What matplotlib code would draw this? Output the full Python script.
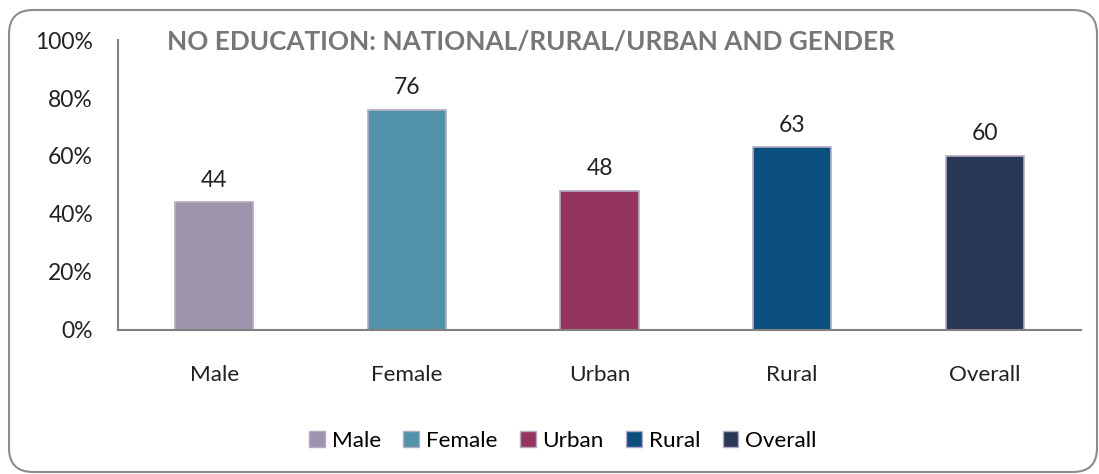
import matplotlib
matplotlib.use("Agg")
import matplotlib.pyplot as plt
from matplotlib.patches import FancyBboxPatch, Patch
from matplotlib.transforms import IdentityTransform

categories = ["Male", "Female", "Urban", "Rural", "Overall"]
values = [44, 76, 48, 63, 60]
colors = ["#9E94AB", "#5293AB", "#95355E", "#0A4F7E", "#2A3858"]
yticks = [0, 20, 40, 60, 80, 100]
ytick_labels = ["0%", "20%", "40%", "60%", "80%", "100%"]
title = "NO EDUCATION: NATIONAL/RURAL/URBAN AND GENDER"

plt.rcParams['font.family'] = ['Lato', 'DejaVu Sans']

fig = plt.figure(figsize=(10.99, 4.74), dpi=100)
W, H = 1099, 474

# rounded border (display pixels, origin bottom-left)
border = FancyBboxPatch((9, H - 472), 1097 - 9, 472 - 10,
                        boxstyle="round,pad=0,rounding_size=24",
                        transform=IdentityTransform(), fill=False,
                        edgecolor="#8C8C8C", linewidth=1.5)
fig.patches.append(border)

ax = fig.add_axes([118 / W, (H - 330) / H, (1081 - 118) / W, (330 - 40) / H])
x = range(len(categories))
bars = ax.bar(x, values, width=0.405, color=colors, edgecolor="#B4ACC4", linewidth=1.2)
for xi, v in zip(x, values):
    ax.text(xi, v + 4, str(v), ha="center", va="bottom", fontsize=16.5, color="#222222")

ax.set_xlim(-0.5, len(categories) - 0.5)
ax.set_ylim(0, 100)
ax.set_yticks(yticks)
ax.set_yticklabels(ytick_labels, fontsize=16.5, color="#222222")
ax.set_xticks(list(x))
ax.set_xticklabels(categories, fontsize=16.2, color="#222222")
ax.tick_params(axis="both", length=0)
ax.tick_params(axis="y", pad=18)
ax.tick_params(axis="x", pad=25)
for s in ["top", "right"]:
    ax.spines[s].set_visible(False)
for s in ["left", "bottom"]:
    ax.spines[s].set_color("#808080")
    ax.spines[s].set_linewidth(1.5)

fig.text(167 / W, (H - 42) / H, title, fontsize=18.8, fontweight="bold",
         color="#77777A", ha="left", va="center")

handles = [Patch(facecolor=c, edgecolor="#B4ACC4", label=l) for c, l in zip(colors, categories)]
fig.legend(handles=handles, loc="center", bbox_to_anchor=(563 / W, (H - 441) / H),
           ncol=5, frameon=False, fontsize=16.2, handlelength=0.7, handleheight=0.7,
           handletextpad=0.3, columnspacing=1.0)

fig.savefig("out.png", dpi=100)
